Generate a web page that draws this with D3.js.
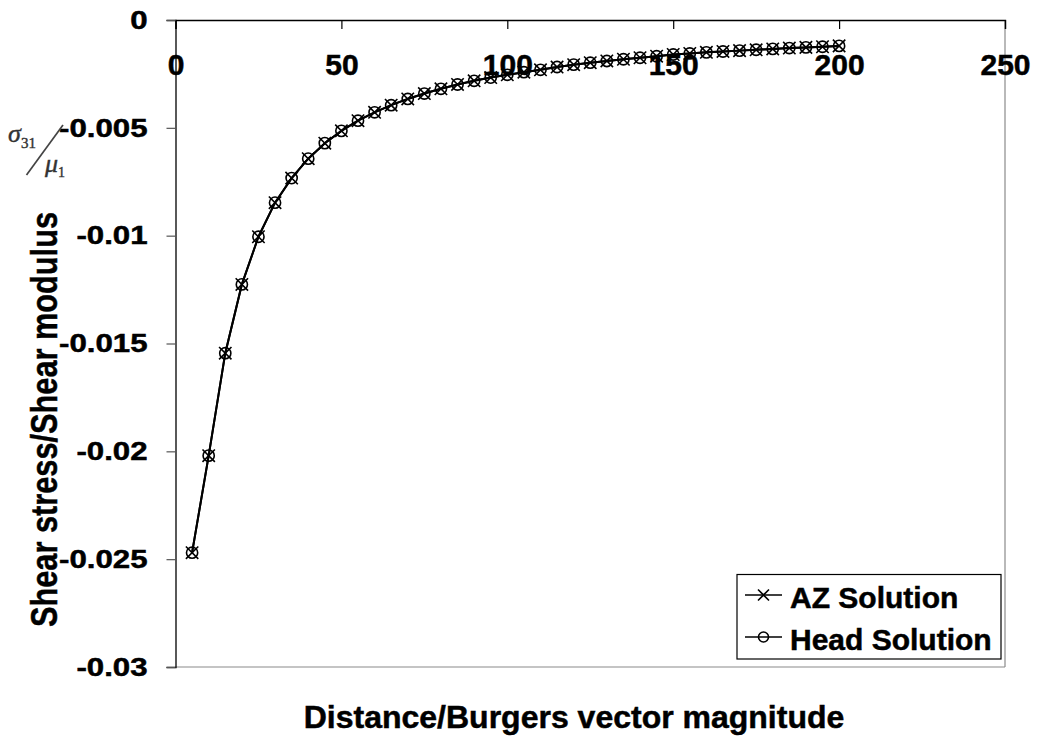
<!DOCTYPE html>
<html>
<head>
<meta charset="utf-8">
<script src="https://cdn.jsdelivr.net/npm/d3@7/dist/d3.min.js"></script>
<style>
  html, body { margin: 0; padding: 0; background: #fff; }
  svg { display: block; }
  text { font-family: "Liberation Sans", Arial, sans-serif; font-weight: bold; fill: #000; }
  text.heavy { stroke: #000; stroke-width: 0.5px; }
</style>
</head>
<body>
<svg id="chart" width="1037" height="740"></svg>
<script>
// Distance from the dislocation, in Burgers vector magnitudes
const distance = [5, 10, 15, 20, 25, 30, 35, 40, 45, 50,
  55, 60, 65, 70, 75, 80, 85, 90, 95, 100,
  105, 110, 115, 120, 125, 130, 135, 140, 145, 150,
  155, 160, 165, 170, 175, 180, 185, 190, 195, 200];

// Normalised shear stress sigma31 / mu1, AZ solution
const azSolution = [-0.0247, -0.0202, -0.01545, -0.01226, -0.01005, -0.00847, -0.00733, -0.00643, -0.00571, -0.00514,
  -0.00467, -0.00428, -0.00395, -0.00366, -0.00341, -0.00319, -0.00299, -0.00282, -0.00267, -0.00254,
  -0.00242, -0.00231, -0.00218, -0.00207, -0.00198, -0.0019, -0.00182, -0.00175, -0.00168, -0.0016,
  -0.00155, -0.0015, -0.00146, -0.00142, -0.00138, -0.00134, -0.0013, -0.00127, -0.00124, -0.0012];

// Normalised shear stress sigma31 / mu1, Head solution
const headSolution = [-0.0247, -0.0202, -0.01545, -0.01226, -0.01005, -0.00847, -0.00733, -0.00643, -0.00571, -0.00514,
  -0.00467, -0.00428, -0.00395, -0.00366, -0.00341, -0.00319, -0.00299, -0.00282, -0.00267, -0.00254,
  -0.00242, -0.00231, -0.00218, -0.00207, -0.00198, -0.0019, -0.00182, -0.00175, -0.00168, -0.0016,
  -0.00155, -0.0015, -0.00146, -0.00142, -0.00138, -0.00134, -0.0013, -0.00127, -0.00124, -0.0012];

const xTicks = [0, 50, 100, 150, 200, 250];
const yTicks = [0, -0.005, -0.01, -0.015, -0.02, -0.025, -0.03];
const yTickLabels = ["0", "-0.005", "-0.01", "-0.015", "-0.02", "-0.025", "-0.03"];
const seriesNames = ["AZ Solution", "Head Solution"];

const svg = d3.select("#chart");
const plot = { left: 175.5, right: 1005, top: 20, bottom: 667 };

const x = d3.scaleLinear().domain([0, 250]).range([plot.left, plot.right]);
const y = d3.scaleLinear().domain([0, -0.03]).range([plot.top, plot.bottom]);

const sansBold = "'Liberation Sans', Arial, sans-serif";

// Plot area frame: right and bottom edges in grey
svg.append("line").attr("x1", plot.right).attr("x2", plot.right)
  .attr("y1", plot.top).attr("y2", plot.bottom).attr("stroke", "#8a8a8a").attr("stroke-width", 1.2);
svg.append("line").attr("x1", plot.left).attr("x2", plot.right)
  .attr("y1", plot.bottom).attr("y2", plot.bottom).attr("stroke", "#8a8a8a").attr("stroke-width", 1.2);

// X axis sits at y = 0 (top), ticks pointing into the plot, labels below the line
const xAxis = d3.axisBottom(x).tickValues(xTicks).tickSize(9).tickPadding(24.5).tickFormat(d3.format("d"));
const gx = svg.append("g").attr("transform", `translate(0,${plot.top})`).call(xAxis);
gx.select(".domain").attr("stroke", "#000").attr("stroke-width", 1.3);
gx.selectAll(".tick line").attr("stroke", "#000").attr("stroke-width", 1.2);
gx.selectAll(".tick text").attr("font-size", 30).attr("fill", "#000").attr("class", "heavy")
  .style("font-family", sansBold).style("font-weight", "bold");

// Y axis on the left, ticks pointing outward; labels are set a little wide
const yAxis = d3.axisLeft(y).tickValues(yTicks).tickSize(9).tickPadding(19)
  .tickFormat((d, i) => yTickLabels[i]);
const gy = svg.append("g").attr("transform", `translate(${plot.left},0)`).call(yAxis);
gy.select(".domain").attr("stroke", "#000").attr("stroke-width", 1.3);
gy.selectAll(".tick line").attr("stroke", "#555").attr("stroke-width", 1.2);
gy.selectAll(".tick text").attr("font-size", 26).attr("fill", "#000").attr("class", "heavy")
  .style("font-family", sansBold).style("font-weight", "bold")
  .each(function () {
    const w = this.getComputedTextLength();
    d3.select(this).attr("textLength", w * 1.2).attr("lengthAdjust", "spacingAndGlyphs");
  });

// Axis titles
svg.append("text").attr("class", "heavy").attr("x", 574).attr("y", 728).attr("text-anchor", "middle")
  .attr("font-size", 32).text("Distance/Burgers vector magnitude");

svg.append("text").attr("class", "heavy").attr("transform", "translate(57,419.5) rotate(-90)")
  .attr("text-anchor", "middle").attr("font-size", 37)
  .attr("textLength", 415).attr("lengthAdjust", "spacingAndGlyphs")
  .text("Shear stress/Shear modulus");

// sigma31 / mu1 symbol beside the y axis
const serif = "'Liberation Serif', 'DejaVu Serif', serif";
const sym = svg.append("g");
function symText(tx, ty, size, italic, str) {
  sym.append("text").attr("x", tx).attr("y", ty).attr("font-size", size)
    .style("font-family", serif).style("font-style", italic ? "italic" : "normal")
    .style("font-weight", "normal").style("fill", "#333")
    .style("stroke", "#333").style("stroke-width", "0.4px").text(str);
}
symText(8, 142, 26, true, "σ");
symText(21, 148, 15, false, "31");
svg.append("line").attr("x1", 26.5).attr("y1", 175).attr("x2", 63).attr("y2", 125)
  .attr("stroke", "#444").attr("stroke-width", 1.7);
symText(45, 172, 26, true, "μ");
symText(58, 177, 14, false, "1");

// Marker shapes
function drawCross(g, cx, cy, s) {
  g.append("path").attr("d", `M${cx - s},${cy - s}L${cx + s},${cy + s}M${cx - s},${cy + s}L${cx + s},${cy - s}`)
    .attr("stroke", "#000").attr("stroke-width", 1.6).attr("fill", "none");
}
function drawCircle(g, cx, cy, r) {
  g.append("circle").attr("cx", cx).attr("cy", cy).attr("r", r)
    .attr("stroke", "#000").attr("stroke-width", 1.6).attr("fill", "none");
}

const line = d3.line().x(d => x(d[0])).y(d => y(d[1]));
const azPts = distance.map((d, i) => [d, azSolution[i]]);
const headPts = distance.map((d, i) => [d, headSolution[i]]);

const series = svg.append("g");
series.append("path").datum(azPts).attr("d", line)
  .attr("fill", "none").attr("stroke", "#000").attr("stroke-width", 2);
series.append("path").datum(headPts).attr("d", line)
  .attr("fill", "none").attr("stroke", "#000").attr("stroke-width", 2);

azPts.forEach(p => drawCross(series, x(p[0]), y(p[1]), 6.2));
headPts.forEach(p => drawCircle(series, x(p[0]), y(p[1]), 5.6));

// Legend
const lg = svg.append("g");
lg.append("rect").attr("x", 737).attr("y", 574.5).attr("width", 264).attr("height", 84.5)
  .attr("fill", "#fff").attr("stroke", "#000").attr("stroke-width", 1.2);
const legendRows = [595, 637];
seriesNames.forEach((name, i) => {
  const ly = legendRows[i];
  lg.append("line").attr("x1", 745).attr("x2", 782).attr("y1", ly).attr("y2", ly)
    .attr("stroke", "#000").attr("stroke-width", 1.4);
  if (i === 0) drawCross(lg, 763.5, ly, 5.5); else drawCircle(lg, 763.5, ly, 5);
  lg.append("text").attr("class", "heavy").attr("x", 790).attr("y", ly + 13).attr("font-size", 30).text(name);
});
</script>
</body>
</html>
